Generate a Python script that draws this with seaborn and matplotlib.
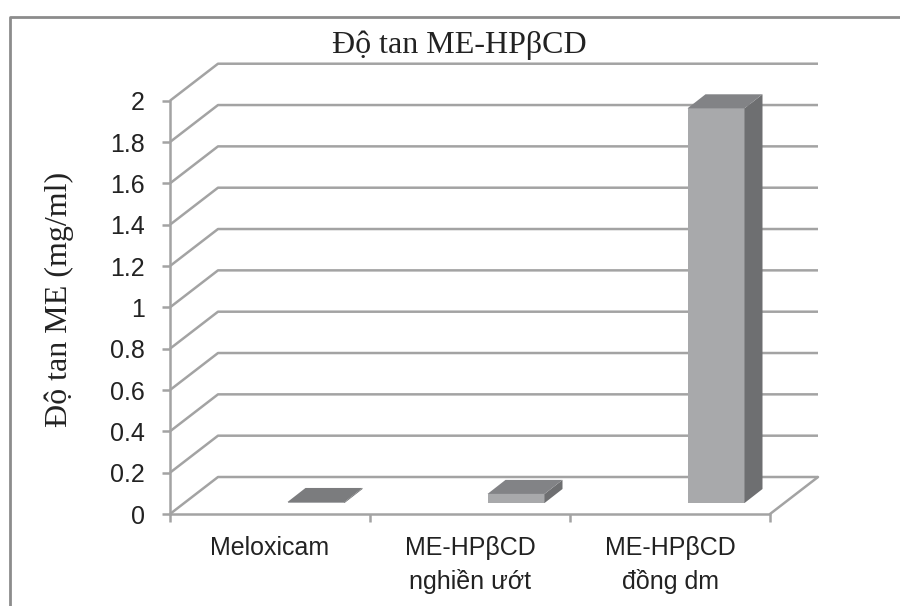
import matplotlib
matplotlib.use("Agg")
import numpy as np
import pandas as pd
import seaborn as sns
import matplotlib.pyplot as plt
from matplotlib.patches import Polygon
from matplotlib.lines import Line2D

# ------ data ------ #
categories = ["Meloxicam", "ME-HPβCD\nnghiền ướt", "ME-HPβCD\nđồng dm"]
solubility = [0.005, 0.044, 1.91]
y_ticks = [0, 0.2, 0.4, 0.6, 0.8, 1, 1.2, 1.4, 1.6, 1.8, 2]
y_tick_labels = ["0", "0.2", "0.4", "0.6", "0.8", "1", "1.2", "1.4", "1.6", "1.8", "2"]
title = "Độ tan ME-HPβCD"
y_label = "Độ tan ME (mg/ml)"

df = pd.DataFrame({"group": categories, "value": solubility})

sns.set_style("white")
plt.rcParams["font.family"] = ["Liberation Sans", "DejaVu Sans"]

# ------ pseudo 3d look (data units) ------ #
wall_dx, wall_dy = 0.24, 0.179      # depth of back wall
bar_dx, bar_dy = 0.09, 0.068        # depth of each bar
bar_shift, bar_base = 0.23, 0.053   # where the bar front face sits
grid_col = "#a3a3a3"
front_col, side_col, top_col = "#a8a9ab", "#6e6f71", "#828386"

fig = plt.figure(figsize=(9, 6.06), dpi=100)
ax = fig.add_axes([170 / 900, 92 / 606, 600 / 900, 413.3 / 606])

# back wall + floor grid
x0, x1 = -0.5, len(categories) - 0.5
for v in y_ticks:
    ax.plot([x0, x0 + wall_dx, x1 + wall_dx], [v, v + wall_dy, v + wall_dy],
            color=grid_col, lw=1.8, clip_on=False, zorder=1, solid_capstyle="butt")
ax.plot([x1, x1 + wall_dx], [0, wall_dy], color=grid_col, lw=1.8, clip_on=False, zorder=1)
ax.plot([x0, x1], [0, 0], color=grid_col, lw=1.8, clip_on=False, zorder=1)

# bars
sns.barplot(data=df, x="group", y="value", color=front_col, saturation=1,
            width=0.285, ax=ax, zorder=3, linewidth=0)
for i, p in enumerate(ax.patches):
    p.set_x(p.get_x() + bar_shift)
    p.set_y(bar_base)
    xl, w, h = p.get_x(), p.get_width(), p.get_height()
    yt = bar_base + h
    top = Polygon([[xl, yt], [xl + w, yt], [xl + w + bar_dx, yt + bar_dy], [xl + bar_dx, yt + bar_dy]],
                  closed=True, fc=top_col if i else "#7b7c7e", ec="none", zorder=4, clip_on=False)
    side = Polygon([[xl + w, bar_base], [xl + w + bar_dx, bar_base + bar_dy],
                    [xl + w + bar_dx, yt + bar_dy], [xl + w, yt]],
                   closed=True, fc=side_col, ec="none", zorder=4, clip_on=False)
    ax.add_patch(side)
    ax.add_patch(top)

ax.set_xlim(x0, x1)
ax.set_ylim(0, 2)
ax.set_yticks(y_ticks)
ax.set_yticklabels(y_tick_labels)
ax.set_xticks(range(len(categories)))
ax.set_xticklabels(categories, linespacing=1.45)
ax.set_xticks(np.arange(x0, x1 + 0.1, 1), minor=True)
ax.set_xlabel("")

for s in ["top", "right", "bottom"]:
    ax.spines[s].set_visible(False)
ax.spines["left"].set_color(grid_col)
ax.spines["left"].set_linewidth(1.8)
ax.spines["left"].set_zorder(2)

ax.tick_params(axis="y", direction="out", length=6, width=1.8, color=grid_col,
               labelsize=18, labelcolor="#222222", pad=12, left=True)
ax.tick_params(axis="x", which="major", length=0, labelsize=18, labelcolor="#222222", pad=16)
ax.tick_params(axis="x", which="minor", direction="out", length=6, width=1.8,
               color=grid_col, bottom=True)

ax.set_ylabel(y_label, family=["Liberation Serif", "DejaVu Serif"], fontsize=23, color="#222222")
ax.yaxis.set_label_coords(-0.185, 0.518)
ax.yaxis.label.set_verticalalignment("center")
ax.set_title(title, family=["Liberation Serif", "DejaVu Serif"], fontsize=23,
             color="#222222", x=0.483, pad=34)

# chart area frame (left and top edges visible)
fig.add_artist(Line2D([10 / 900, 10 / 900, 1.0], [0.0, 1 - 17 / 606, 1 - 17 / 606],
                      transform=fig.transFigure, color="#8c8c8c", lw=2))

plt.savefig("out.png", dpi=100)
